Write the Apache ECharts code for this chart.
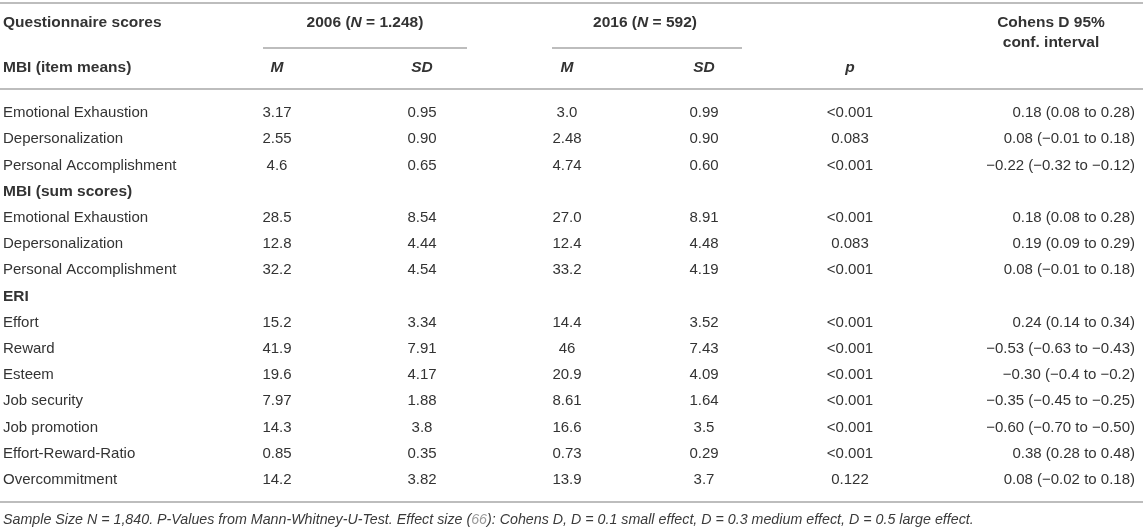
<!DOCTYPE html>
<html>
<head>
<meta charset="utf-8">
<script src="https://cdn.jsdelivr.net/npm/echarts@6/dist/echarts.min.js"></script>
<style>
  html, body { margin: 0; padding: 0; background: #fff; }
  #chart { width: 1143px; height: 530px; }
</style>
</head>
<body>
<div id="chart"></div>
<script>
(function() {
  // table rows (top to bottom)
  const rowLabels = [
    'Emotional Exhaustion', 'Depersonalization', 'Personal Accomplishment',
    'MBI (sum scores)',
    'Emotional Exhaustion', 'Depersonalization', 'Personal Accomplishment',
    'ERI',
    'Effort', 'Reward', 'Esteem', 'Job security', 'Job promotion',
    'Effort-Reward-Ratio', 'Overcommitment'
  ];
  const sectionRows = [3, 7];

  // 2006 (N = 1.248)
  const m2006 = ['3.17', '2.55', '4.6', '', '28.5', '12.8', '32.2', '', '15.2', '41.9', '19.6', '7.97', '14.3', '0.85', '14.2'];
  const sd2006 = ['0.95', '0.90', '0.65', '', '8.54', '4.44', '4.54', '', '3.34', '7.91', '4.17', '1.88', '3.8', '0.35', '3.82'];
  // 2016 (N = 592)
  const m2016 = ['3.0', '2.48', '4.74', '', '27.0', '12.4', '33.2', '', '14.4', '46', '20.9', '8.61', '16.6', '0.73', '13.9'];
  const sd2016 = ['0.99', '0.90', '0.60', '', '8.91', '4.48', '4.19', '', '3.52', '7.43', '4.09', '1.64', '3.5', '0.29', '3.7'];
  const pValues = ['<0.001', '0.083', '<0.001', '', '<0.001', '0.083', '<0.001', '', '<0.001', '<0.001', '<0.001', '<0.001', '<0.001', '<0.001', '0.122'];
  const cohensD = [
    '0.18 (0.08 to 0.28)', '0.08 (\u22120.01 to 0.18)', '\u22120.22 (\u22120.32 to \u22120.12)', '',
    '0.18 (0.08 to 0.28)', '0.19 (0.09 to 0.29)', '0.08 (\u22120.01 to 0.18)', '',
    '0.24 (0.14 to 0.34)', '\u22120.53 (\u22120.63 to \u22120.43)', '\u22120.30 (\u22120.4 to \u22120.2)',
    '\u22120.35 (\u22120.45 to \u22120.25)', '\u22120.60 (\u22120.70 to \u22120.50)',
    '0.38 (0.28 to 0.48)', '0.08 (\u22120.02 to 0.18)'
  ];

  // column layout: anchor x and text alignment
  const columns = [
    { values: rowLabels, x: 3, align: 'left' },
    { values: m2006, x: 277, align: 'center' },
    { values: sd2006, x: 422, align: 'center' },
    { values: m2016, x: 567, align: 'center' },
    { values: sd2016, x: 704, align: 'center' },
    { values: pValues, x: 850, align: 'center' },
    { values: cohensD, x: 1135, align: 'right' }
  ];

  const FONT = '"Liberation Sans", Arial, Helvetica, sans-serif';
  const TEXT = '#333';
  const RULE = '#bdbdbd';
  const BODY = '15px ' + FONT;
  const BOLD = 'bold 15.5px ' + FONT;
  const BOLD_IT = 'italic bold 15.5px ' + FONT;

  const cells = [];
  columns.forEach((col, c) => {
    col.values.forEach((v, r) => {
      if (v === '') return;
      cells.push({ value: [col.x, r], text: v, align: col.align, bold: c === 0 && sectionRows.indexOf(r) >= 0 });
    });
  });

  const chart = echarts.init(document.getElementById('chart'));

  const rule = (x1, x2, y) => ({
    type: 'line',
    shape: { x1, y1: y, x2, y2: y },
    style: { stroke: RULE, lineWidth: 2 }
  });
  const head = (text, x, y, align, font) => ({
    type: 'text',
    x, y,
    style: { text, fill: TEXT, font: font || BOLD, align, verticalAlign: 'middle' }
  });
  const groupHead = (year, n, x) => ({
    type: 'text', x, y: 23,
    style: {
      text: '{b|' + year + ' (}{i|N}{b| = ' + n + ')}', align: 'center', verticalAlign: 'middle',
      rich: {
        b: { font: BOLD, fill: TEXT },
        i: { font: BOLD_IT, fill: TEXT }
      }
    }
  });

  const option = {
    animation: false,
    grid: { left: 0, right: 0, top: 100, bottom: 37 },
    xAxis: { type: 'value', min: 0, max: 1143, show: false },
    yAxis: { type: 'category', data: rowLabels.map((_, i) => i), inverse: true, show: false },
    series: [{
      type: 'custom',
      data: cells,
      renderItem: (params, api) => {
        const d = cells[params.dataIndex];
        const pt = api.coord([api.value(0), api.value(1)]);
        return {
          type: 'text',
          x: pt[0], y: pt[1],
          style: {
            text: d.text,
            fill: TEXT,
            font: d.bold ? BOLD : BODY,
            align: d.align,
            verticalAlign: 'middle'
          }
        };
      }
    }],
    graphic: [
      rule(0, 1143, 3),
      rule(263, 467, 48),
      rule(552, 742, 48),
      rule(0, 1143, 89),
      rule(0, 1143, 502),
      head('Questionnaire scores', 3, 23, 'left'),
      groupHead('2006', '1.248', 365),
      groupHead('2016', '592', 645),
      head('Cohens D 95%', 1051, 23, 'center'),
      head('conf. interval', 1051, 43, 'center'),
      head('MBI (item means)', 3, 68, 'left'),
      head('M', 277, 68, 'center', BOLD_IT),
      head('SD', 422, 68, 'center', BOLD_IT),
      head('M', 567, 68, 'center', BOLD_IT),
      head('SD', 704, 68, 'center', BOLD_IT),
      head('p', 850, 68, 'center', BOLD_IT),
      {
        type: 'text', x: 3, y: 520,
        style: {
          text: '{t|Sample Size N = 1,840. P-Values from Mann-Whitney-U-Test. Effect size (}{r|66}{t|): Cohens D, D = 0.1 small effect, D = 0.3 medium effect, D = 0.5 large effect.}',
          align: 'left', verticalAlign: 'middle',
          rich: {
            t: { font: 'italic 14.25px ' + FONT, fill: '#3a3a3a' },
            r: { font: 'italic 14.25px ' + FONT, fill: '#9a9a9a' }
          }
        }
      }
    ]
  };
  chart.setOption(option);
})();
</script>
</body>
</html>
